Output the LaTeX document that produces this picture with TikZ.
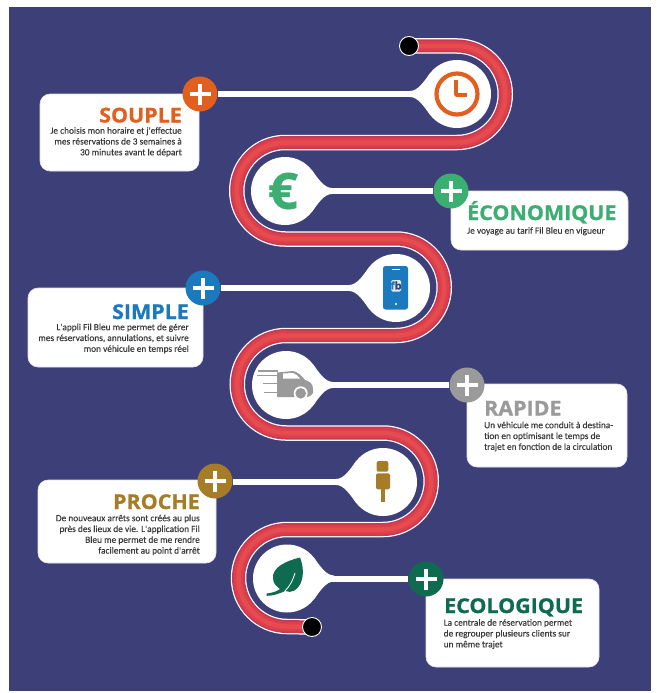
\documentclass[tikz,border=0pt]{standalone}
\usepackage{fontspec}
\setmainfont{Carlito}[FakeBold=0.25]
\newfontfamily\bodyfont{Carlito}[FakeBold=0.25]
\newfontfamily\titlefont{Open Sans Bold}[FakeBold=0.9,FakeStretch=1.05]
\usetikzlibrary{calc}
\definecolor{bgblue}{HTML}{3D3F78}
\definecolor{bandedge}{HTML}{C93A50}
\definecolor{bandin}{HTML}{DC3F4F}
\definecolor{bandmid}{HTML}{E64C4C}
\definecolor{cOrange}{HTML}{E1601F}
\definecolor{cGreen}{HTML}{3CAE72}
\definecolor{cBlue}{HTML}{1B79BE}
\definecolor{cGrey}{HTML}{9A9A9A}
\definecolor{cBrown}{HTML}{A67C26}
\definecolor{cDeep}{HTML}{0F6B4F}
\definecolor{bodytxt}{HTML}{3A3A3A}
\tikzset{
  x=1pt,y=-1pt,
  hub/.style={circle,fill=white,minimum size=68pt,inner sep=0pt},
  plusnode/.style={circle,fill=#1,minimum size=35pt,inner sep=0pt,
    path picture={\draw[white,line width=3.8pt]
      ($(path picture bounding box.center)+(-10.5pt,0)$)--+(21pt,0)
      ($(path picture bounding box.center)+(0,-10.5pt)$)--+(0,21pt);}},
  card/.style={fill=white,rounded corners=10pt,draw=white!85!bgblue,line width=.6pt},
  ttl/.style={font=\titlefont\fontsize{20.4}{21}\selectfont,text=#1,inner sep=0pt},
  body/.style={font=\bodyfont\fontsize{9.35}{10.8}\selectfont,text=bodytxt,inner sep=0pt},
  stem/.style={white,line width=6pt},
  ending/.style={circle,fill=black,draw=white,line width=.9pt,minimum size=19pt,inner sep=0pt},
}
\newcommand{\flareL}[1]{% hub at #1, stem leaving to the left
  \fill[white] ($(#1)+(-47,-3)$) .. controls ($(#1)+(-39,-3)$) and ($(#1)+(-33,-12.7)$) .. ($(#1)+(-27,-20.6)$)
    -- ($(#1)+(-27,20.6)$) .. controls ($(#1)+(-33,12.7)$) and ($(#1)+(-39,3)$) .. ($(#1)+(-47,3)$) -- cycle;}
\newcommand{\flareR}[1]{% hub at #1, stem leaving to the right
  \fill[white] ($(#1)+(47,-3)$) .. controls ($(#1)+(39,-3)$) and ($(#1)+(33,-12.7)$) .. ($(#1)+(27,-20.6)$)
    -- ($(#1)+(27,20.6)$) .. controls ($(#1)+(33,12.7)$) and ($(#1)+(39,3)$) .. ($(#1)+(47,3)$) -- cycle;}
\begin{document}
\begin{tikzpicture}
\useasboundingbox (0,0) rectangle (656,693);
\fill[white] (0,0) rectangle (656,693);
\fill[bgblue] (9,7) rectangle (651,691);
% winding band
\coordinate (startpt) at (409,46);
\coordinate (endpt) at (312,627);
\foreach \w/\c in {15.5/white,13/bandedge,9.5/bandin,4.5/bandmid}{
 \draw[line width=\w pt,color=\c]
  (startpt) -- (457,46)
  arc[start angle=90,end angle=-90,x radius=48.25,y radius=-48.25] -- (285,142.5)
  arc[start angle=90,end angle=270,x radius=48.25,y radius=-48.25] -- (396,239)
  arc[start angle=90,end angle=-90,x radius=48.25,y radius=-48.25] -- (286,335.5)
  arc[start angle=90,end angle=270,x radius=48.75,y radius=-48.75] -- (383,433)
  arc[start angle=90,end angle=-90,x radius=48.25,y radius=-48.25] -- (287,529.5)
  arc[start angle=90,end angle=270,x radius=48.5,y radius=-48.5] -- (endpt);
}
\node[ending] (startdot) at (startpt) {};
\node[ending] (enddot) at (endpt) {};
% cards
\draw[card] (40,94) rectangle (199,171);
\draw[card] (451,191) rectangle (628,250);
\draw[card] (28,288) rectangle (203,367);
\draw[card] (467,384) rectangle (627,467);
\draw[card] (38,480) rectangle (216,563);
\draw[card] (426,579) rectangle (599,667);
% hubs
\node[hub] (clock) at (457,94) {};
\node[hub] (euro) at (285,191) {};
\node[hub] (phone) at (396,288) {};
\node[hub] (van) at (286,385) {};
\node[hub] (stop) at (383,482) {};
\node[hub] (leaf) at (287,578.5) {};
\flareL{clock}\flareR{euro}\flareL{phone}\flareR{van}\flareL{stop}\flareR{leaf}
% plus nodes
\node[plusnode=cOrange] (p1) at (200,94) {};
\node[plusnode=cGreen] (p2) at (451,191) {};
\node[plusnode=cBlue] (p3) at (203,288) {};
\node[plusnode=cGrey] (p4) at (467,385) {};
\node[plusnode=cBrown] (p5) at (215,481) {};
\node[plusnode=cDeep] (p6) at (426,579) {};
% stems
\draw[stem] (p1.east) -- (clock.west);
\draw[stem] (euro.east) -- (p2.west);
\draw[stem] (p3.east) -- (phone.west);
\draw[stem] (van.east) -- (p4.west);
\draw[stem] (p5.east |- stop.west) -- (stop.west);
\draw[stem] (leaf.east) -- (p6.west |- leaf.east);
% titles and texts
\node[ttl=cOrange,anchor=base east] (t1) at (182,122.5) {SOUPLE};
\node[body,anchor=north east,align=right] (b1) at (182,127) {Je choisis mon horaire et j'effectue\\mes réservations de 3 semaines à\\30 minutes avant le départ};
\node[ttl=cGreen,anchor=base west] (t2) at (467,220) {ÉCONOMIQUE};
\node[body,anchor=north west,align=left] (b2) at (467,227) {Je voyage au tarif Fil Bleu en vigueur};
\node[ttl=cBlue,anchor=base east] (t3) at (189,319) {SIMPLE};
\node[body,anchor=north east,align=right] (b3) at (189,323.5) {L'appli Fil Bleu me permet de gérer\\mes réservations, annulations, et suivre\\mon véhicule en temps réel};
\node[ttl=cGrey,anchor=base west] (t4) at (484,415.5) {RAPIDE};
\node[body,anchor=north west,align=left] (b4) at (484,421.5) {Un véhicule me conduit à destina-\\tion en optimisant le temps de\\trajet en fonction de la circulation};
\node[ttl=cBrown,anchor=base east] (t5) at (200,509) {PROCHE};
\node[body,anchor=north east,align=right] (b5) at (200,514.5) {De nouveaux arrêts sont créés au plus\\près des lieux de vie. L'application Fil\\Bleu me permet de me rendre\\facilement au point d'arrêt};
\node[ttl=cDeep,anchor=base west] (t6) at (444,613) {ECOLOGIQUE};
\node[body,anchor=north west,align=left] (b6) at (443.5,619) {La centrale de réservation permet\\de regrouper plusieurs clients sur\\un même trajet};
% clock icon
\draw[cOrange,line width=4.2pt] (clock) circle[radius=20.5];
\draw[cOrange,line width=3.6pt,line join=round] (456,80) -- (456,95) -- (467,95);
% euro icon
\node[text=cGreen,font=\titlefont\fontsize{50}{50}\selectfont,inner sep=0pt] (euroglyph) at (283,191) {€};
% phone icon
\fill[cBlue,rounded corners=2.5pt] (383,266) rectangle (408,309.5);
\fill[white] (392,268.5) rectangle (400,270);
\fill[white] (396,304) circle[radius=1.2];
\fill[white!85!cBlue,rounded corners=1.5pt] (391,280) rectangle (401,291.5);
\node[text=bgblue,font=\titlefont\fontsize{10.5}{10}\selectfont,inner sep=0pt] (fb) at (396,285.5) {\textcolor{cBlue}{f}b};
% van icon
\fill[cGrey] (277,372.5) -- (293,371) .. controls (298,372) and (302,376) .. (305,380)
  .. controls (310,381.5) and (313,384) .. (313,389) -- (313,393) .. controls (312,396) and (309,397) .. (305,397)
  -- (277,397) -- cycle;
\fill[cGrey] (258,370) rectangle (278,371.8);
\fill[cGrey] (257,374.5) rectangle (278,376.3);
\fill[cGrey] (263,382.5) rectangle (278,384.3);
\fill[cGrey] (264,391.5) rectangle (278,393.3);
\fill[white] (283,373.5) -- (293,373) .. controls (296,374) and (298,376) .. (300,378.5) -- (283,378.5) -- cycle;
\fill[white] (300.7,393.3) circle[radius=7];
\fill[cGrey] (300.7,393.3) circle[radius=5.3];
% stop icon
\fill[cBrown,rounded corners=2pt] (376.7,461) rectangle (388.3,471.7);
\fill[cBrown,rounded corners=1.5pt] (376,473.3) rectangle (390,489.3);
\fill[cBrown] (381,489) rectangle (385,502);
% leaf icon
\fill[cDeep] (300,557.5) .. controls (285,561) and (272,568) .. (273,578)
  .. controls (273,583) and (276,586) .. (280,589)
  .. controls (276,592) and (271,593) .. (266.5,593.5) -- (266.5,595.8)
  .. controls (272,596) and (279,594) .. (285,591)
  .. controls (298,596) and (308,578) .. (300,557.5) -- cycle;
\draw[white,line width=.8pt] (285,591) .. controls (290,586) and (293,580) .. (295,573);
\end{tikzpicture}
\end{document}
